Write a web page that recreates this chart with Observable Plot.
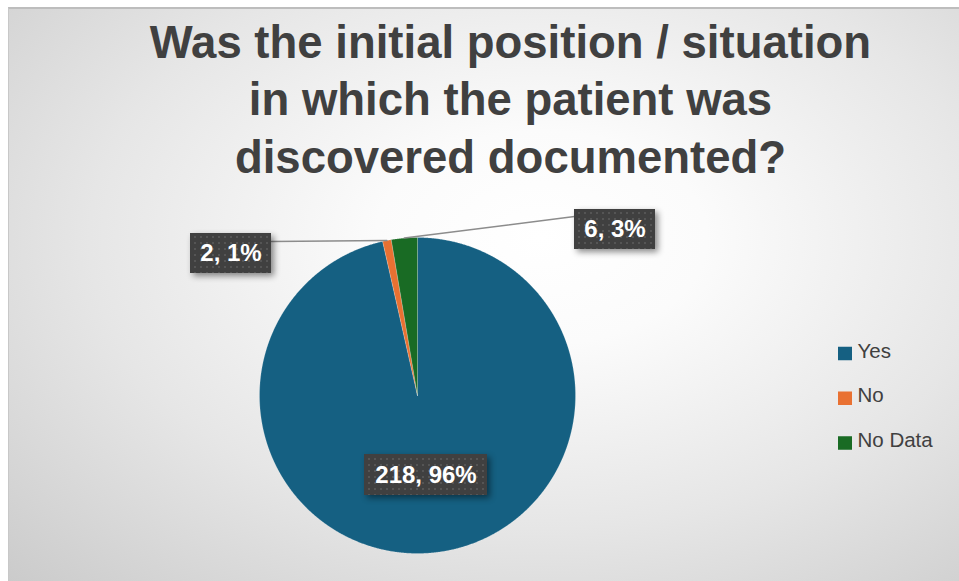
<!DOCTYPE html>
<html>
<head>
<meta charset="utf-8">
<script src="https://cdn.jsdelivr.net/npm/d3@7"></script>
<script src="https://cdn.jsdelivr.net/npm/@observablehq/plot@0.6"></script>
<style>
html, body { margin: 0; padding: 0; background: #ffffff; width: 959px; height: 581px; overflow: hidden; }
#bg {
  position: absolute; left: 8px; top: 7px; width: 951px; height: 574px; box-sizing: border-box;
  border-top: 2px solid #bdbdbd; border-left: 1px solid #c8c8c8;
  background: radial-gradient(farthest-corner at 56% 40%, #ffffff 0%, #fbfbfb 22%, #e6e6e6 60%, #cbcbcb 100%);
}
#chart { position: absolute; left: 0; top: 0; }
</style>
</head>
<body>
<div id="bg"></div>
<div id="chart"></div>
<script>
// ---- data ----
const categories = ["Yes", "No", "No Data"];
const counts = [218, 2, 6];
const colors = ["#156082", "#E97132", "#196B24"];
const titleLines = [
  "Was the initial position / situation",
  "in which the patient was",
  "discovered documented?"
];

// ---- layout (pixels) ----
const W = 959, H = 581;
const pie = { cx: 417, cy: 395, r: 158 };
const font = "'Liberation Sans', Arial, sans-serif";
const title = { x: 510, top: 25, gap: 57.5, size: 45.5 };
const labelLayout = {
  "Yes":     { x: 425.5, y: 474.5, w: 123, h: 41, attach: null },
  "No":      { x: 230.5, y: 253,   w: 81,  h: 40, attach: [271, 241] },
  "No Data": { x: 614.5, y: 229,   w: 81,  h: 40, attach: [574, 216] }
};
const legend = { squareX1: 838, squareX2: 852, textX: 857, y0: 350.5, gap: 44.75, side: 13.5, squareDy: 3, size: 20.5 };

// ---- derived geometry ----
const total = d3.sum(counts);
let acc = 0;
const slices = categories.map((c, i) => {
  const a0 = acc / total * 2 * Math.PI;
  acc += counts[i];
  const a1 = acc / total * 2 * Math.PI;
  return { category: c, value: counts[i], a0, a1, mid: (a0 + a1) / 2,
           pct: Math.round(counts[i] / total * 100) };
});
const polar = a => [pie.cx + pie.r * Math.sin(a), pie.cy - pie.r * Math.cos(a)];

const slicePoints = [];
for (const s of slices) {
  const step = Math.PI / 720;
  const n = Math.max(2, Math.ceil((s.a1 - s.a0) / step));
  slicePoints.push({ category: s.category, x: pie.cx, y: pie.cy });
  for (let k = 0; k <= n; k++) {
    const [x, y] = polar(s.a0 + (s.a1 - s.a0) * k / n);
    slicePoints.push({ category: s.category, x, y });
  }
  slicePoints.push({ category: s.category, x: pie.cx, y: pie.cy });
}

const labels = slices.map(s => ({ ...s, ...labelLayout[s.category], text: `${s.value}, ${s.pct}%` }));
const leaders = [];
for (const l of labels) {
  if (!l.attach) continue;
  const [ex, ey] = polar(l.mid);
  leaders.push({ category: l.category, x: l.attach[0], y: l.attach[1] });
  leaders.push({ category: l.category, x: ex, y: ey });
}

const legendRows = categories.map((c, i) => ({ category: c, y: legend.y0 + i * legend.gap }));

const chart = Plot.plot({
  width: W, height: H, margin: 0,
  x: { domain: [0, W], range: [0, W], axis: null },
  y: { domain: [0, H], range: [0, H], axis: null },
  color: { domain: categories, range: colors },
  style: { background: "transparent", fontFamily: font },
  marks: [
    Plot.line(slicePoints, { x: "x", y: "y", z: "category", fill: "category", stroke: "#ffffff", strokeWidth: 0.6, strokeOpacity: 0.3, curve: "linear" }),
    Plot.line(leaders, { x: "x", y: "y", z: "category", stroke: "#8c8c8c", strokeWidth: 1.5 }),
    Plot.rect(labels, {
      x1: d => d.x - d.w / 2, x2: d => d.x + d.w / 2,
      y1: d => d.y - d.h / 2, y2: d => d.y + d.h / 2,
      fill: "url(#dots)", imageFilter: "drop-shadow(3px 3px 3px rgba(0,0,0,0.45))"
    }),
    Plot.text(labels, { x: "x", y: "y", text: "text", fill: "#ffffff", fontSize: 24, fontWeight: "bold", lineAnchor: "middle", fontFamily: font }),
    Plot.text(titleLines, { x: () => title.x, y: (d, i) => title.top + i * title.gap, text: d => d, fill: "#404040", fontSize: title.size, fontWeight: "bold", lineAnchor: "top", fontFamily: font }),
    Plot.rect(legendRows, {
      x1: () => legend.squareX1, x2: () => legend.squareX2,
      y1: d => d.y + legend.squareDy - legend.side / 2, y2: d => d.y + legend.squareDy + legend.side / 2,
      fill: "category"
    }),
    Plot.text(legendRows, { x: () => legend.textX, y: "y", text: "category", textAnchor: "start", lineAnchor: "middle", fill: "#404040", fontSize: legend.size, fontFamily: font, ariaLabel: "legend-text" })
  ]
});

// pattern for label boxes
const ns = "http://www.w3.org/2000/svg";
const defs = document.createElementNS(ns, "defs");
defs.innerHTML = `<pattern id="dots" width="6" height="6" patternUnits="userSpaceOnUse">
  <rect width="6" height="6" fill="#404040"></rect>
  <rect x="2" y="2" width="2" height="2" fill="#555555"></rect>
</pattern>`;
chart.insertBefore(defs, chart.firstChild);
const lg = chart.querySelector('[aria-label="legend-text"]');
if (lg) lg.style.letterSpacing = "1px";

document.getElementById("chart").appendChild(chart);
</script>
</body>
</html>
